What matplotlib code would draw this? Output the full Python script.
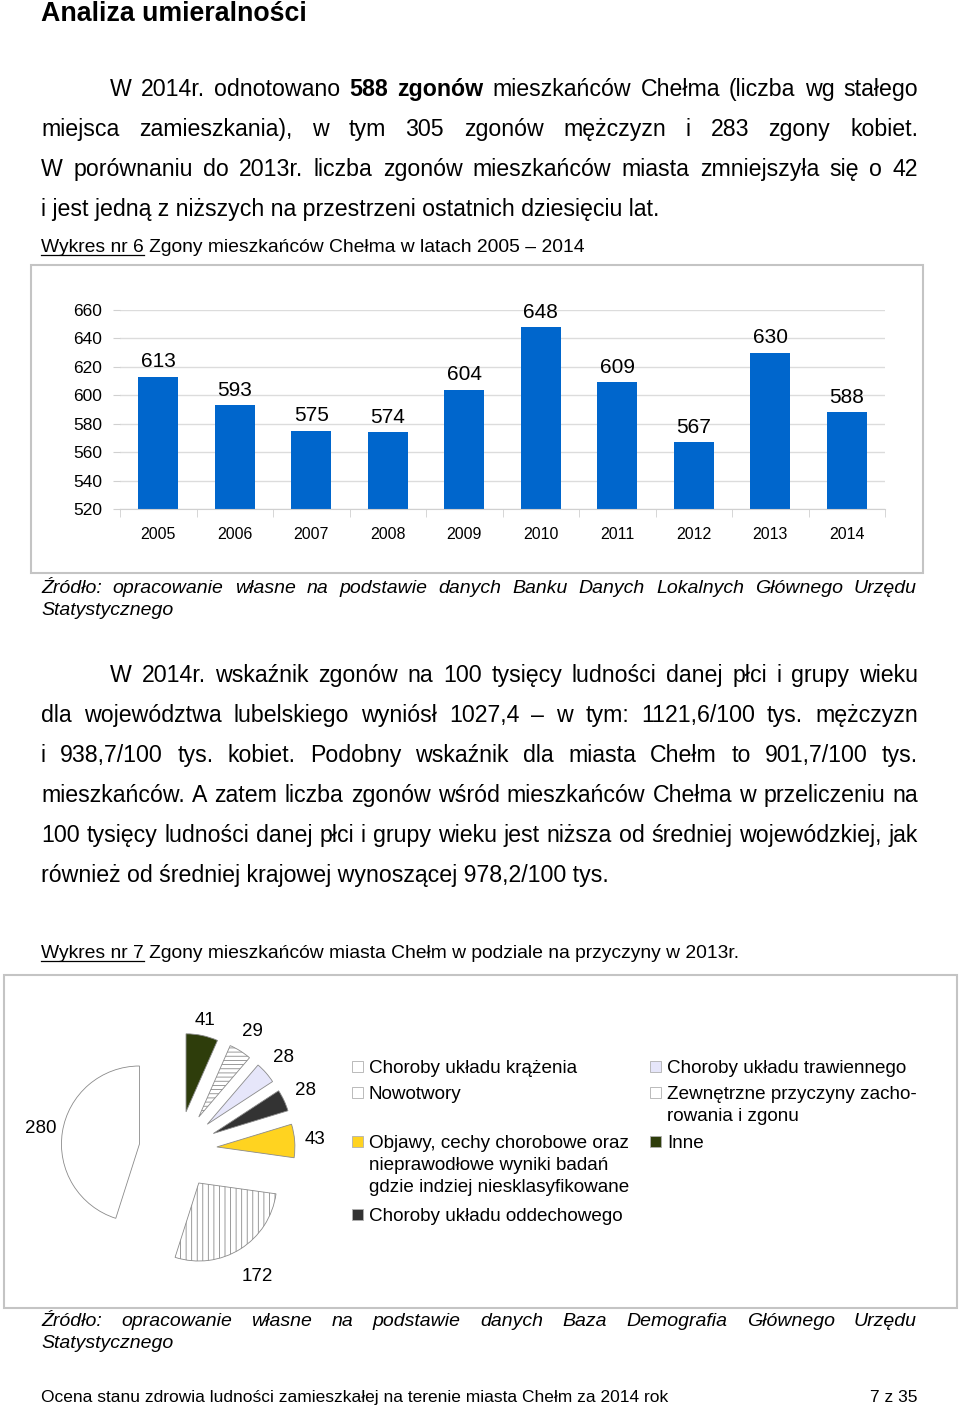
import matplotlib
matplotlib.use("Agg")
import matplotlib.pyplot as plt
from matplotlib.patches import Rectangle
from matplotlib.lines import Line2D
import numpy as np

plt.rcParams["font.family"] = ["Liberation Sans", "DejaVu Sans"]
plt.rcParams["hatch.linewidth"] = 0.6

# data
years = ["2005", "2006", "2007", "2008", "2009", "2010", "2011", "2012", "2013", "2014"]
deaths = [613, 593, 575, 574, 604, 648, 609, 567, 630, 588]
y_ticks = [520, 540, 560, 580, 600, 620, 640, 660]

causes = [
    "Choroby układu krążenia",
    "Nowotwory",
    "Objawy, cechy chorobowe oraz\nnieprawodłowe wyniki badań\ngdzie indziej niesklasyfikowane",
    "Choroby układu oddechowego",
    "Choroby układu trawiennego",
    "Zewnętrzne przyczyny zacho-\nrowania i zgonu",
    "Inne",
]
cause_counts = [280, 172, 43, 28, 28, 29, 41]
cause_colors = ["#ffffff", "#ffffff", "#ffd320", "#333333", "#e6e6fa", "#ffffff", "#2e3d0b"]
cause_hatches = [None, "|||", None, None, None, "----", None]

para1 = [
    "W 2014r. odnotowano 588 zgonów mieszkańców Chełma (liczba wg stałego",
    "miejsca zamieszkania), w tym 305 zgonów mężczyzn i 283 zgony kobiet.",
    "W porównaniu do 2013r. liczba zgonów mieszkańców miasta zmniejszyła się o 42",
    "i jest jedną z niższych na przestrzeni ostatnich dziesięciu lat.",
]
para2 = [
    "W 2014r. wskaźnik zgonów na 100 tysięcy ludności danej płci i grupy wieku",
    "dla województwa lubelskiego wyniósł 1027,4 – w tym: 1121,6/100 tys. mężczyzn",
    "i 938,7/100 tys. kobiet. Podobny wskaźnik dla miasta Chełm to 901,7/100 tys.",
    "mieszkańców. A zatem liczba zgonów wśród mieszkańców Chełma w przeliczeniu na",
    "100 tysięcy ludności danej płci i grupy wieku jest niższa od średniej wojewódzkiej, jak",
    "również od średniej krajowej wynoszącej 978,2/100 tys.",
]

BODY = 16.7
W, H = 960, 1407
fig = plt.figure(figsize=(9.6, 14.07), dpi=100)
renderer = fig.canvas.get_renderer()


def fx(x):
    return x / W


def fy(y):
    return 1 - y / H


def write(x, y, s, size=BODY, **kw):
    return fig.text(fx(x), fy(y), s, fontsize=size, va="baseline", **kw)


def justify(y, line, x0=41, x1=918, size=BODY, style="normal", bold=()):
    words = line.split()
    texts = []
    for i, w in enumerate(words):
        wt = "bold" if i in bold else "normal"
        texts.append(write(0, y, w, size=size, weight=wt, style=style))
    widths = [t.get_window_extent(renderer).width for t in texts]
    gap = (x1 - x0 - sum(widths)) / (len(texts) - 1)
    x = x0
    for t, w in zip(texts, widths):
        t.set_x(fx(x))
        x += w + gap


def caption(y, head, rest, size=13.9):
    write(41, y, head + " " + rest, size=size)
    tmp = write(0, y, head, size=size)
    w = tmp.get_window_extent(renderer).width
    tmp.remove()
    fig.add_artist(Line2D([fx(41), fx(41 + w)], [fy(y + 3)] * 2, color="black", lw=0.9))


# heading and first paragraph
write(41, 21, "Analiza umieralności", size=19.3, weight="bold")
justify(96, para1[0], x0=110, bold=(3, 4))
justify(136, para1[1])
justify(176, para1[2])
write(41, 216, para1[3])

caption(252, "Wykres nr 6", "Zgony mieszkańców Chełma w latach 2005 – 2014")

# bar chart
fig.add_artist(Rectangle((fx(31), fy(573)), (923 - 31) / W, (573 - 265) / H,
                         transform=fig.transFigure, fill=False, edgecolor="#c4c4c4", lw=1.5))
ax = fig.add_axes([fx(120), fy(509), (885 - 120) / W, (509 - 310) / H])
x = np.arange(len(years))
bars = ax.bar(x, [d - 520 for d in deaths], bottom=520, width=0.52, color="#0066cc")
ax.bar_label(bars, labels=[str(d) for d in deaths], padding=4, fontsize=15, clip_on=False)
ax.set_ylim(520, 660)
ax.set_xlim(-0.5, len(years) - 0.5)
ax.set_yticks(y_ticks)
ax.set_xticks(x)
ax.set_xticklabels(years)
ax.set_xticks(np.arange(len(years) + 1) - 0.5, minor=True)
ax.tick_params(axis="x", which="major", length=0, pad=13, labelsize=11.5)
ax.tick_params(axis="x", which="minor", length=6, color="#d0d0d0", direction="out")
ax.tick_params(axis="y", length=5, color="#d0d0d0", pad=8, labelsize=12.5)
ax.yaxis.grid(True, color="#dcdcdc", lw=1)
ax.set_axisbelow(True)
for s in ["top", "right", "left"]:
    ax.spines[s].set_visible(False)
ax.spines["bottom"].set_color("#d0d0d0")

justify(593, "Źródło: opracowanie własne na podstawie danych Banku Danych Lokalnych Głównego Urzędu",
        x1=917, size=14, style="italic")
write(41, 615, "Statystycznego", size=14, style="italic")

# second paragraph
justify(682, para2[0], x0=110)
for i, line in enumerate(para2[1:5]):
    justify(722 + 40 * i, line)
write(41, 882, para2[5])

caption(958, "Wykres nr 7", "Zgony mieszkańców miasta Chełm w podziale na przyczyny w 2013r.")

# pie chart
fig.add_artist(Rectangle((fx(4), fy(1308)), (957 - 4) / W, (1308 - 975) / H,
                         transform=fig.transFigure, fill=False, edgecolor="#c4c4c4", lw=1.5))
ax2 = fig.add_axes([fx(20), fy(1300), 320 / W, 300 / H])
wedges, _ = ax2.pie(cause_counts, colors=cause_colors, startangle=90, counterclock=True,
                    explode=[0.5] * len(cause_counts),
                    wedgeprops=dict(edgecolor="#8a8a8a", linewidth=0.6))
for w, h in zip(wedges, cause_hatches):
    if h:
        w.set_hatch(h)
label_dist = [1.28, 1.42, 1.26, 1.3, 1.3, 1.3, 1.2]
for w, n, d in zip(wedges, cause_counts, label_dist):
    th = np.deg2rad((w.theta1 + w.theta2) / 2)
    cx, cy = w.center
    ax2.text(cx + d * np.cos(th), cy + d * np.sin(th), str(n), ha="center", va="center",
             fontsize=13.5, clip_on=False)
ax2.set_xlim((20 - 178) / 78, (340 - 178) / 78)
ax2.set_ylim((1150 - 1300) / 78, (1150 - 1000) / 78)

# legend
leg_pos = [(352, 1067), (352, 1093), (352, 1142), (352, 1215), (650, 1067), (650, 1093), (650, 1142)]
for (lx, ly), name, col in zip(leg_pos, causes, cause_colors):
    fig.add_artist(Rectangle((fx(lx), fy(ly + 5)), 11 / W, 11 / H, transform=fig.transFigure,
                             facecolor=col, edgecolor="#b0b0b0", lw=0.6))
    fig.text(fx(lx + 17), fy(ly - 7), name, fontsize=13.6, va="top", linespacing=1.37)

justify(1326, "Źródło: opracowanie własne na podstawie danych Baza Demografia Głównego Urzędu",
        x1=917, size=14, style="italic")
write(41, 1348, "Statystycznego", size=14, style="italic")

# footer
write(41, 1402, "Ocena stanu zdrowia ludności zamieszkałej na terenie miasta Chełm za 2014 rok", size=12.5)
write(918, 1402, "7 z 35", size=12.5, ha="right")

fig.savefig("out.png", dpi=100)
